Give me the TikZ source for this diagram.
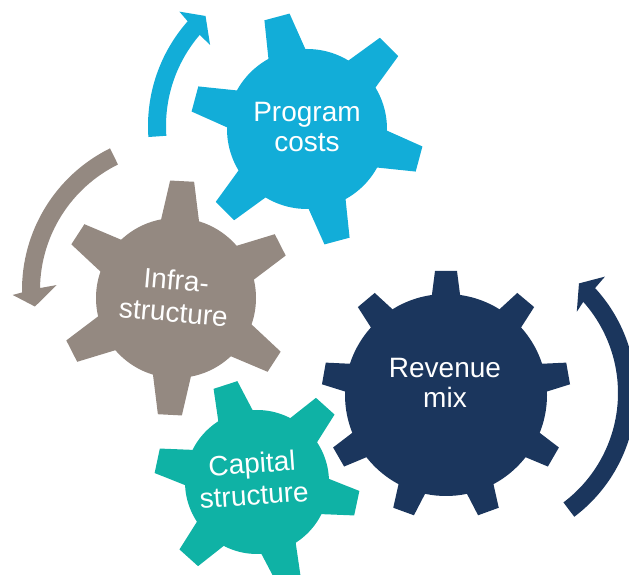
\documentclass[tikz,border=0pt]{standalone}
\usepackage{fontspec}
\setmainfont{Liberation Sans}
\definecolor{gblue}{RGB}{18,173,216}
\definecolor{ggray}{RGB}{148,137,129}
\definecolor{gnavy}{RGB}{27,54,93}
\definecolor{gteal}{RGB}{15,178,165}
% #1 center, #2 body radius, #3 tip radius, #4 tip half width, #5 base half width, #6 first angle, #7 step, #8 last index, #9 colour
\newcommand{\mygear}[9]{%
  \fill[#9] (#1) circle[radius=#2];
  \foreach \k in {0,...,#8}{%
    \fill[#9, shift={(#1)}, rotate={#6+\k*#7}]
      (#2-8,-#5-1) -- (#3,-#4) -- (#3,#4) -- (#2-8,#5+1) -- cycle;
  }%
}
\tikzset{
  gtext/.style={text=white, font=\fontsize{28}{30}\selectfont, align=center, inner sep=0pt},
  gtextw/.style={text=white, font=\fontsize{28}{32}\selectfont, align=center, inner sep=0pt}
}
\begin{document}
\begin{tikzpicture}[x=1pt,y=1pt]
\useasboundingbox (0,0) rectangle (629,575);
\clip (0,0) rectangle (629,575);

% curved arrows
\begin{scope}[shift={(306,449)}]
  \fill[gblue] (184:158) arc[start angle=184, end angle=138.5, radius=158]
    -- (137.9:170.6) -- (132.4:149) -- (139.8:125.6) -- (139.4:140)
    arc[start angle=139.4, end angle=184, radius=140] -- cycle;
\end{scope}
\begin{scope}[shift={(180,285)}]
  \fill[ggray] (116.3:158) arc[start angle=116.3, end angle=180.9, radius=158]
    -- (181.7:167.4) -- (186.5:146) -- (177.7:123.4) -- (179.2:140)
    arc[start angle=179.2, end angle=116.3, radius=140] -- cycle;
\end{scope}
\begin{scope}[shift={(481,182)}]
  \fill[gnavy] (-53:155) arc[start angle=-53, end angle=42.6, radius=155]
    -- (43.2:170) -- (48.2:147) -- (40.3:125.6) -- (41.7:137)
    arc[start angle=41.7, end angle=-53, radius=137] -- cycle;
\end{scope}

% gears
\coordinate (cp) at (307,446);
\coordinate (ci) at (176,277);
\coordinate (cr) at (446,180);
\coordinate (cc) at (257,93);
\mygear{cp}{80}{116}{13}{19}{45}{60}{5}{gblue}
\mygear{ci}{80}{117}{12}{19}{87}{60}{5}{ggray}
\mygear{cr}{101}{124}{11}{14}{90}{40}{8}{gnavy}
\mygear{cc}{72}{102}{12.5}{18}{108}{60}{5}{gteal}

% labels
\node[gtext] (program) at (307,448) {Program\\costs};
\node[gtextw, rotate=-5] (infra) at (175,279) {Infra-\\structure};
\node[gtext] (revenue) at (445,192) {Revenue\\mix};
\node[gtextw, rotate=4] (capital) at (253,96) {Capital\\structure};
\end{tikzpicture}
\end{document}
